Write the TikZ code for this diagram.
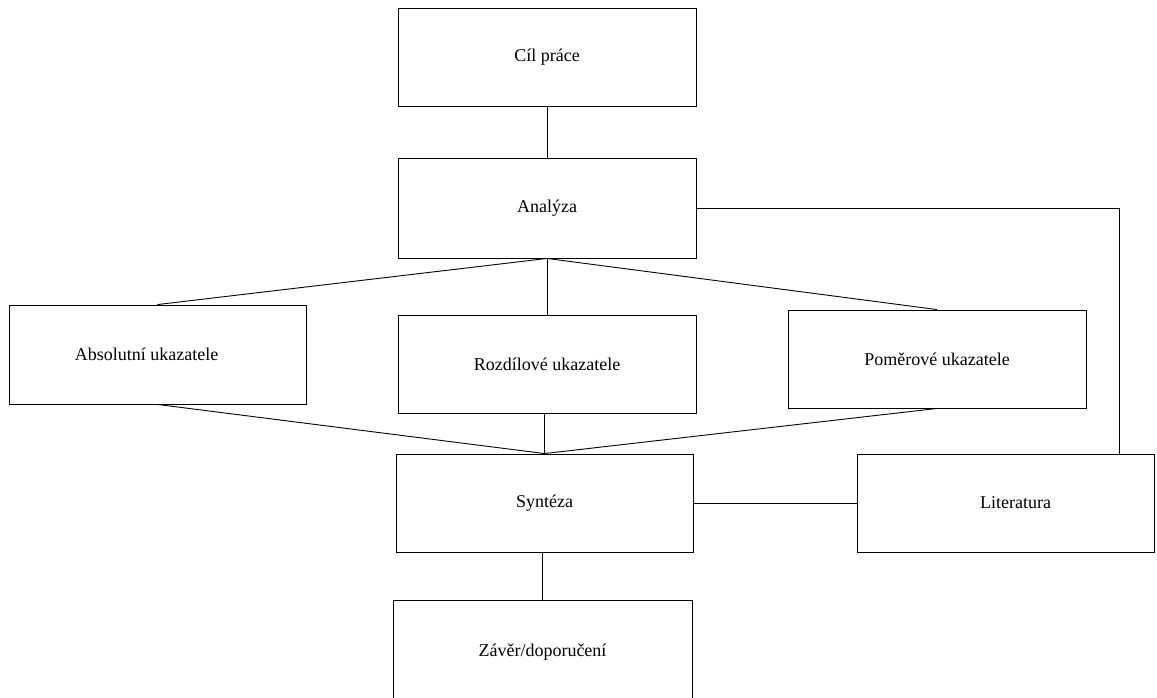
\documentclass[tikz,border=0pt]{standalone}
\usepackage{fontspec}
\setmainfont{Liberation Serif}
\usepackage{tikz}
\tikzset{
	blok/.style={draw, line width=0.9pt, minimum width=298pt, minimum height=98pt, inner sep=0pt, font=\fontsize{18}{21}\selectfont},
	spoj/.style={line width=0.9pt}
}

\begin{document}
\begin{tikzpicture}[x=1pt, y=-1pt]
		%%%%% START %%%%%
		
		\useasboundingbox (0, 0) rectangle (1157, 697);
		
		\node[blok] (cil) at (547, 57) {Cíl práce};
		\node[blok, minimum height=100pt] (analyza) at (547, 208) {Analýza};
		
		\node[blok, minimum width=297pt, minimum height=99pt] (absolutni) at (157.5, 354.5) {\hspace*{-22pt}Absolutní ukazatele};
		\node[blok] (rozdilove) at (547, 364) {Rozdílové ukazatele};
		\node[blok] (pomerove) at (937, 359) {Poměrové ukazatele};
		
		\node[blok, minimum width=297pt] (synteza) at (544.5, 503) {Syntéza};
		\node[blok, minimum width=297pt] (literatura) at (1005.5, 503) {\hspace*{20pt}Literatura};
		
		\node[blok, minimum width=299pt, minimum height=104pt] (zaver) at (542.5, 652) {Závěr/doporučení};
		
		\coordinate (litvstup) at ([xshift=-35pt]literatura.north east);
		
		\draw[spoj] (cil.south) -- (analyza.north);
		\draw[spoj] (analyza.east) -| (litvstup);
		
		\draw[spoj] (analyza.south) -- (absolutni.north);
		\draw[spoj] (analyza.south) -- (rozdilove.north);
		\draw[spoj] (analyza.south) -- (pomerove.north);
		
		\draw[spoj] (absolutni.south) -- (synteza.north);
		\draw[spoj] (rozdilove.south -| synteza.north) -- (synteza.north);
		\draw[spoj] (pomerove.south) -- (synteza.north);
		
		\draw[spoj] (synteza.east) -- (literatura.west);
		\draw[spoj] (synteza.south -| zaver.north) -- (zaver.north);
		
		%%%%% END %%%%%
	\end{tikzpicture}
\end{document}
